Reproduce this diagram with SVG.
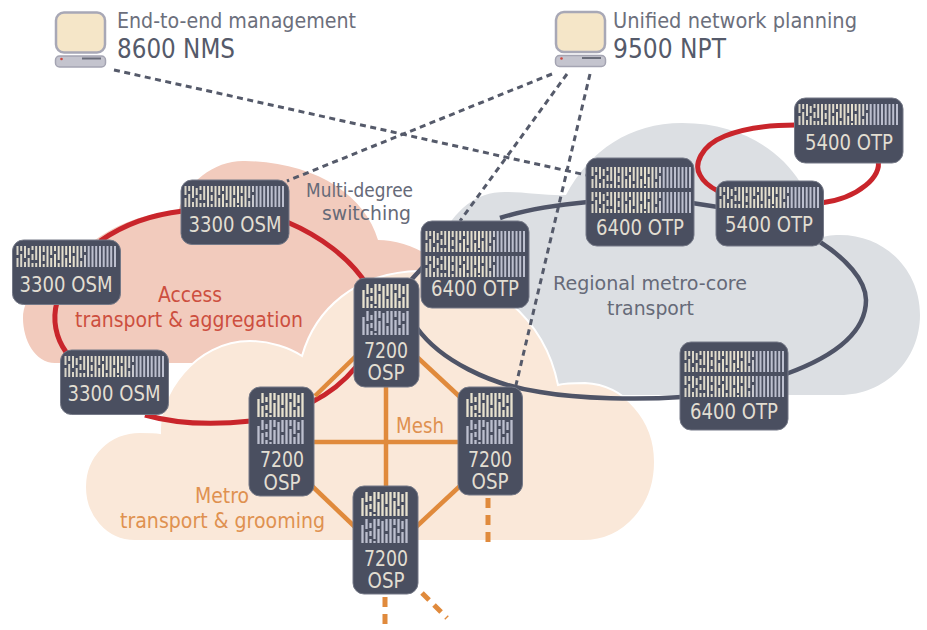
<svg xmlns="http://www.w3.org/2000/svg" width="927" height="630" viewBox="0 0 927 630">
<style>
text{font-family:"DejaVu Sans","Liberation Sans",sans-serif}
.n{fill:#4a4f60;stroke:#757987;stroke-width:1}
.l{fill:#e2ded2;font-size:21px;text-anchor:middle}
.mon{fill:#f5e6c8;stroke:#a8a8b6;stroke-width:2.5}
.bas{fill:#c4c4ce;stroke:#a4a4b2;stroke-width:1.5}
.t1{fill:#6c6f7c;font-size:22px}
.t2{fill:#555a6a;font-size:26px}
.g{fill:#666a78;font-size:20px}
.r{fill:#cd4f3f;font-size:21px}
.o{fill:#df9150;font-size:21px}
.red{fill:none;stroke:#c9252b;stroke-width:5}
.gry{fill:none;stroke:#4f5467;stroke-width:4.5}
.org{fill:none;stroke:#e08a3c;stroke-width:4.5}
.dsh{fill:none;stroke:#555a6a;stroke-width:3;stroke-dasharray:6 4.5}
.ods{fill:none;stroke:#e08a3c;stroke-width:5;stroke-dasharray:10 7}
</style>
<defs>
<linearGradient id="fade" gradientUnits="userSpaceOnUse" x1="0" y1="0" x2="100" y2="0">
<stop offset="0" stop-color="#d8d4c8"/><stop offset=".6" stop-color="#e8e2cf"/><stop offset=".72" stop-color="#bcbfce"/><stop offset="1" stop-color="#bcbfce"/>
</linearGradient>
<path id="wide" fill="none" stroke="url(#fade)" stroke-width="2" d="M1.500 0v9m0 3v9M5.200 0v5m0 3v13M9 0v12m0 4v5M12.700 2v7m0 3v9M16.500 0v4m0 4v6m0 3v4M20.200 0v14m0 3v4M24 0v21M27.700 0v6m0 3v6m0 3v3M31.500 0v21M35.200 0v9m0 3v9M39 0v5m0 3v13M42.700 0v14m0 3v4M46.500 0v21M50.200 0v9m0 3v9M54 0v17m0 2v2M57.700 0v7m0 3v11M61.500 0v21M65.200 0v12m0 3v6M69 0v6m0 3v12M72.700 0v21M76.500 0v21M80.200 0v21M84 0v21M87.700 0v21M91.500 0v21M95.200 0v21M99 0v21"/>
<path id="tall" fill="none" stroke-width="2.300" d="M1.500 6v18M5.500 0v10m0 3v11M9.500 4v5m0 3v5m0 3v4M13.500 0v20m0 2v2M17.500 0v7m0 3v14M21.500 2v22M25.500 0v12m0 3v9M29.500 0v24M33.500 0v6m0 3v15M37.500 0v14m0 3v7M41.500 2v8m0 3v11M45.500 0v24"/>
</defs>

<g id="clouds">
<path d="M95 240C120 222 150 212 178 212C186 182 215 160 245 161C315 162 365 195 378 240C400 240 430 250 445 272L445 300L300 363L55 363C35 363 23 340 23 318C23 290 60 255 95 240Z" fill="#f2cbbd"/>
<path d="M440 240C455 210 475 192 505 192C525 192 550 196 566 195C590 150 630 123 682 123C740 123 780 150 800 182L812 240C825 236 830 235 840 235C885 235 920 270 920 315C920 360 885 395 840 395L540 395L430 300Z" fill="#dcdfe3"/>
<path d="M160 433C158 395 195 341 250 341C270 341 290 348 302 356C315 310 355 272 420 271C490 270 545 320 558 385C565 383 575 383 585 383C625 385 655 420 655 462C655 505 625 541 583 541L135 541C105 541 85 515 85 487C85 455 110 432 140 432C148 432 155 432 160 433Z" fill="#fae8d9" stroke="#fff" stroke-width="2"/>
</g>

<g id="connectors">
<path class="dsh" d="M114 70L586 175"/>
<path class="dsh" d="M552 74L287 181"/>
<path class="dsh" d="M567 74L460 221"/>
<path class="dsh" d="M590 74L516 385"/>
<path class="red" d="M100 241C125 224 150 215 183 211"/>
<path class="red" d="M287 222C320 236 350 258 367 285"/>
<path class="red" d="M57 302C52 320 56 338 66 352"/>
<path class="red" d="M145 415C180 425 215 425 251 421"/>
<path class="red" d="M312 402C328 394 342 384 356 367"/>
<path class="red" d="M796 125C770 125 745 128 725 136C700 146 694 165 700 175C704 183 710 187 718 191"/>
<path class="red" d="M878 161C882 175 860 198 821 203"/>
<path class="gry" d="M417 328C440 360 490 385 540 392C580 399 640 400 682 397"/>
<path class="gry" d="M786 374C830 358 866 335 866 300C866 280 845 258 820 242"/>
<path class="gry" d="M500 218C525 210 555 205 588 202"/>
<path class="gry" d="M692 203L718 207"/>
<path class="gry" d="M423 267L411 280"/>
<path class="org" d="M356 356L315 396"/>
<path class="org" d="M417 357L460 397"/>
<path class="org" d="M386 385V488"/>
<path class="org" d="M312 442H460"/>
<path class="org" d="M312 486L355 527"/>
<path class="org" d="M460 486L416 527"/>
<path class="ods" d="M488 498V548"/>
<path class="ods" d="M385 597V630"/>
<path class="ods" d="M422 593L447 618"/>
</g>

<g id="nms">
<rect class="mon" x="56" y="12.500" width="49" height="40" rx="8"/>
<rect class="bas" x="55.500" y="56" width="50" height="11" rx="4"/>
<circle cx="61.500" cy="59" r="1.300" fill="#d0453c"/>
<rect x="82" y="57.500" width="19" height="2" fill="#6a6d7a"/>
<text class="t1" x="117" y="28" textLength="239" lengthAdjust="spacingAndGlyphs">End-to-end management</text>
<text class="t2" x="117" y="58" textLength="118" lengthAdjust="spacingAndGlyphs">8600 NMS</text>
</g>
<g id="npt">
<rect class="mon" x="556" y="12" width="49" height="40" rx="8"/>
<rect class="bas" x="555.500" y="55.500" width="50" height="11" rx="4"/>
<circle cx="561.500" cy="58.500" r="1.300" fill="#d0453c"/>
<rect x="582" y="57" width="19" height="2" fill="#6a6d7a"/>
<text class="t1" x="613" y="28" textLength="244" lengthAdjust="spacingAndGlyphs">Unified network planning</text>
<text class="t2" x="613" y="58" textLength="113" lengthAdjust="spacingAndGlyphs">9500 NPT</text>
</g>

<g id="osm1"><rect class="n" x="181" y="180" width="108" height="64.500" rx="11"/><use href="#wide" x="184" y="186"/><text class="l" x="235" y="232" textLength="93" lengthAdjust="spacingAndGlyphs">3300 OSM</text></g>
<g id="osm2"><rect class="n" x="12.500" y="240" width="108" height="64.500" rx="11"/><use href="#wide" x="16" y="246"/><text class="l" x="66" y="292" textLength="93" lengthAdjust="spacingAndGlyphs">3300 OSM</text></g>
<g id="osm3"><rect class="n" x="60.500" y="350" width="108" height="64.500" rx="11"/><use href="#wide" x="64" y="356"/><text class="l" x="114" y="401" textLength="93" lengthAdjust="spacingAndGlyphs">3300 OSM</text></g>

<g id="otp1"><rect class="n" x="421" y="221" width="108" height="87" rx="11"/><use href="#wide" x="425" y="231"/><use href="#wide" x="425" y="256"/><text class="l" x="475" y="296" textLength="88" lengthAdjust="spacingAndGlyphs">6400 OTP</text></g>
<g id="otp2"><rect class="n" x="586" y="158" width="108" height="88" rx="11"/><use href="#wide" x="591" y="167"/><use href="#wide" x="591" y="192"/><text class="l" x="640" y="235" textLength="88" lengthAdjust="spacingAndGlyphs">6400 OTP</text></g>
<g id="otp3"><rect class="n" x="680" y="342" width="108" height="88" rx="11"/><use href="#wide" x="684" y="351"/><use href="#wide" x="684" y="376"/><text class="l" x="734" y="419" textLength="88" lengthAdjust="spacingAndGlyphs">6400 OTP</text></g>
<g id="otp4"><rect class="n" x="716" y="181" width="107.500" height="65" rx="11"/><use href="#wide" x="719" y="187"/><text class="l" x="769" y="232" textLength="88" lengthAdjust="spacingAndGlyphs">5400 OTP</text></g>
<g id="otp5"><rect class="n" x="794.500" y="98" width="108.500" height="65" rx="11"/><use href="#wide" x="798" y="104"/><text class="l" x="849" y="150" textLength="88" lengthAdjust="spacingAndGlyphs">5400 OTP</text></g>

<g id="osp1"><rect class="n" x="354" y="278" width="65" height="109" rx="11"/><use href="#tall" x="362" y="284" stroke="#e8e2cf"/><use href="#tall" x="362" y="311" stroke="#bcbfce"/><text class="l" x="386" y="358" textLength="44" lengthAdjust="spacingAndGlyphs">7200</text><text class="l" x="386" y="380" textLength="37" lengthAdjust="spacingAndGlyphs">OSP</text></g>
<g id="osp2"><rect class="n" x="249" y="387" width="65" height="109" rx="11"/><use href="#tall" x="257" y="393" stroke="#e8e2cf"/><use href="#tall" x="257" y="420" stroke="#bcbfce"/><text class="l" x="282" y="467" textLength="44" lengthAdjust="spacingAndGlyphs">7200</text><text class="l" x="282" y="490" textLength="37" lengthAdjust="spacingAndGlyphs">OSP</text></g>
<g id="osp3"><rect class="n" x="458" y="387" width="64.500" height="108" rx="11"/><use href="#tall" x="466" y="393" stroke="#e8e2cf"/><use href="#tall" x="466" y="420" stroke="#bcbfce"/><text class="l" x="490" y="467" textLength="44" lengthAdjust="spacingAndGlyphs">7200</text><text class="l" x="490" y="489" textLength="37" lengthAdjust="spacingAndGlyphs">OSP</text></g>
<g id="osp4"><rect class="n" x="353" y="486" width="65" height="108" rx="11"/><use href="#tall" x="361" y="492" stroke="#e8e2cf"/><use href="#tall" x="361" y="519" stroke="#bcbfce"/><text class="l" x="386" y="566" textLength="44" lengthAdjust="spacingAndGlyphs">7200</text><text class="l" x="386" y="588" textLength="37" lengthAdjust="spacingAndGlyphs">OSP</text></g>

<g id="labels">
<text class="g" x="306" y="197" textLength="107" lengthAdjust="spacingAndGlyphs">Multi-degree</text>
<text class="g" x="322" y="220" textLength="89" lengthAdjust="spacingAndGlyphs">switching</text>
<text class="r" x="158" y="302" textLength="64" lengthAdjust="spacingAndGlyphs">Access</text>
<text class="r" x="75" y="327" textLength="228" lengthAdjust="spacingAndGlyphs">transport &amp; aggregation</text>
<text class="o" x="195" y="503" textLength="54" lengthAdjust="spacingAndGlyphs">Metro</text>
<text class="o" x="120" y="528" textLength="205" lengthAdjust="spacingAndGlyphs">transport &amp; grooming</text>
<text class="o" x="396" y="433" textLength="48" lengthAdjust="spacingAndGlyphs">Mesh</text>
<text class="g" x="553" y="290" textLength="194" lengthAdjust="spacingAndGlyphs">Regional metro-core</text>
<text class="g" x="607" y="315" textLength="87" lengthAdjust="spacingAndGlyphs">transport</text>
</g>
</svg>
